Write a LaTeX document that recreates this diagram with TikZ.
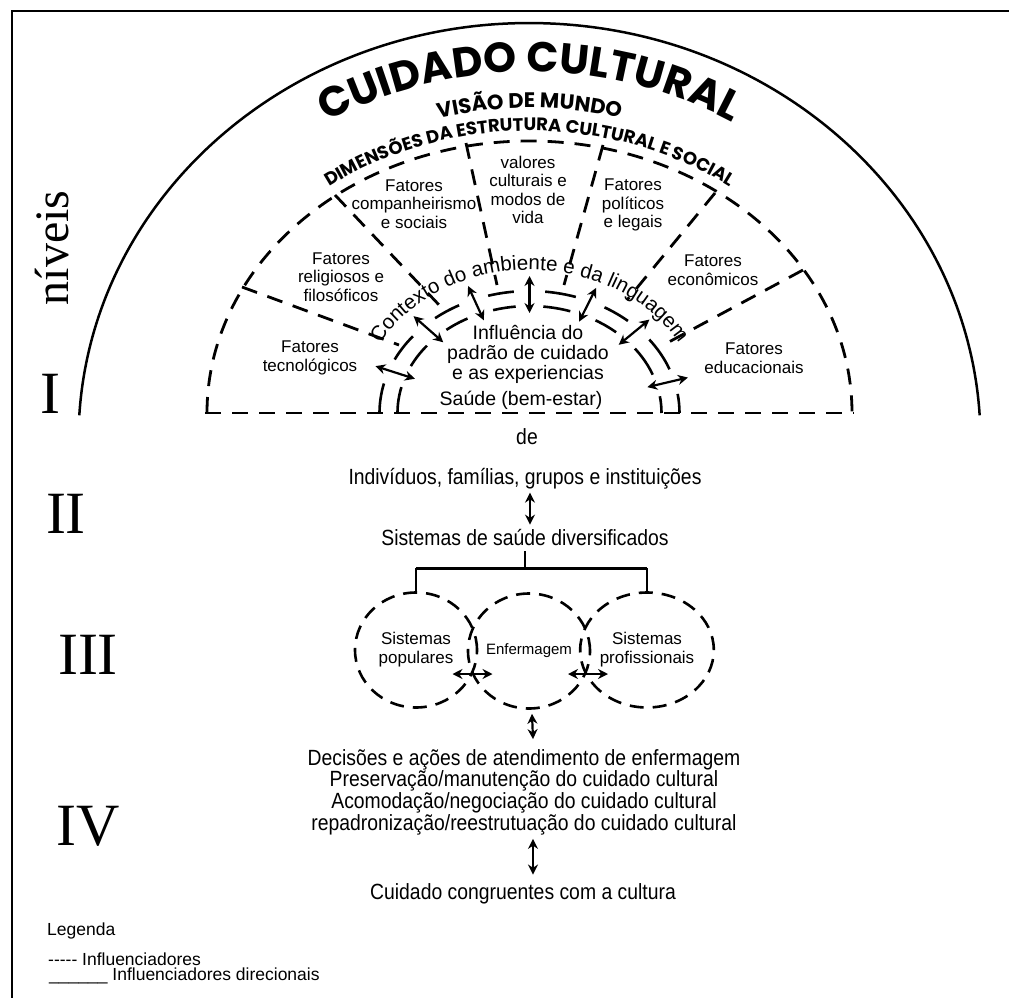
\documentclass[tikz,border=0pt]{standalone}
\usepackage{fontspec}
\setmainfont{Liberation Sans}
\newfontfamily\narrowfont{Liberation Sans}[FakeStretch=0.88]
\newfontfamily\romanfont{Liberation Serif}
\newfontfamily\titlefont{Poppins}
\usetikzlibrary{arrows.meta,shapes.geometric,decorations.text,calc}

\tikzset{
  frameline/.style={line width=2.5pt},
  dashline/.style={line width=2.8pt, dash pattern=on 16pt off 11pt},
  ringline/.style={line width=2.6pt},
  dblarrow/.style={{Stealth[length=10pt,width=10pt]}-{Stealth[length=10pt,width=10pt]}, line width=2.2pt},
  sector/.style={font=\fontsize{17}{18.5}\selectfont, align=center, inner sep=0pt},
  core/.style={font=\fontsize{19.5}{20}\selectfont, align=center, inner sep=0pt},
  lowtext/.style={font=\narrowfont\fontsize{22}{19.7}\selectfont, align=center, inner sep=1pt},
  numeral/.style={font=\romanfont\fontsize{60}{60}\selectfont, inner sep=0pt},
  bubble/.style={draw, ellipse, line width=2.6pt, dash pattern=on 14pt off 9pt, minimum width=122pt, minimum height=115pt, inner sep=0pt, align=center, font=\fontsize{17}{19}\selectfont},
  legend/.style={font=\fontsize{17.5}{14}\selectfont, anchor=west, inner sep=0pt}
}

\begin{document}
\begin{tikzpicture}[x=1pt, y=1pt]
  \useasboundingbox (0,0) rectangle (1009,-998);
  \draw[frameline] (12,-998) -- (12,-11) -- (1009,-11);

  % levels
  \node[numeral, rotate=90, font=\romanfont\fontsize{48}{48}\selectfont] (niveis) at (52,-248) {níveis};
  \node[numeral] (lvone) at (50,-394) {I};
  \node[numeral] (lvtwo) at (66,-514) {II};
  \node[numeral] (lvthree) at (88,-655) {III};
  \node[numeral] (lvfour) at (88,-826) {IV};

  % cultural care arc
  \draw[line width=2.5pt] (79.3,-415.3) arc[start angle=176.6, end angle=3.4, x radius=451, y radius=417];
  \path[decorate, decoration={text along path, text align=center,
      text={|\titlefont\bfseries\fontsize{42}{42}\selectfont|CUIDADO CULTURAL}}]
    (529.5,-440) ++(150:402 and 368) arc[start angle=150, end angle=30, x radius=402, y radius=368];
  \path[decorate, decoration={text along path, text align=center,
      text={|\titlefont\bfseries\fontsize{21}{21}\selectfont|VISÃO DE MUNDO}}]
    (529.5,-440) ++(150:366 and 332) arc[start angle=150, end angle=30, x radius=366, y radius=332];
  \path[decorate, decoration={text along path, text align=center,
      text={|\titlefont\bfseries\fontsize{18}{18}\selectfont|DIMENSÕES DA ESTRUTURA CULTURAL E SOCIAL}}]
    (529.5,-413) ++(170:335 and 282) arc[start angle=170, end angle=10, x radius=335, y radius=282];

  % social structure sectors
  \coordinate (ctr) at (529.5,-413);
  \draw[dashline] (205,-413) -- (854,-413);
  \draw[dashline] (207,-413) arc[start angle=180, end angle=0, x radius=322.5, y radius=272];
  \foreach \ox/\oy/\ix/\iy in {242/287/399/345, 335/195/441/307, 466/143/497/285,
      603/145/564/285, 715/193/627/300, 803/270/667/343}
    \draw[dashline] (\ox,-\oy) -- (\ix,-\iy);

  \node[sector] (tec) at (310,-358) {Fatores\\tecnológicos};
  \node[sector] (rel) at (341,-277) {Fatores\\religiosos e\\filosóficos};
  \node[sector] (comp) at (414,-204) {Fatores\\companheirismo\\e sociais};
  \node[sector] (val) at (528,-190) {valores\\culturais e\\modos de\\vida};
  \node[sector] (pol) at (633,-205) {Fatores\\políticos\\e legais};
  \node[sector] (eco) at (713,-270) {Fatores\\econômicos};
  \node[sector] (edu) at (754,-358) {Fatores\\educacionais};

  % environmental context rings
  \foreach \a/\b in {180/166,154/141,129/118,106/96,84/72,60/49,37/21,9/0} {
    \draw[ringline] (ctr) ++(\a:150 and 122) arc[start angle=\a, end angle=\b, x radius=150, y radius=122];
    \draw[ringline] (ctr) ++(\a:132 and 107) arc[start angle=\a, end angle=\b, x radius=132, y radius=107];
  }
  \foreach \t in {160,135,112,90,66,43,15}
    \draw[dblarrow] ($(ctr)+(\t:122 and 100)$) -- ($(ctr)+(\t:164 and 137)$);
  \path[decorate, decoration={text along path, text align=center,
      text={|\fontsize{20.5}{20}\selectfont|Contexto do ambiente e da linguagem}}]
    (ctr) ++(170:171 and 143) arc[start angle=170, end angle=10, x radius=171, y radius=143];

  \node[core] (infl) at (528,-354) {Influência do\\padrão de cuidado\\e as experiencias};
  \node[core] (saude) at (521,-400) {Saúde (bem-estar)};

  % levels II to IV
  \node[lowtext] (de) at (527,-437) {de};
  \node[lowtext] (indiv) at (525,-479) {Indivíduos, famílias, grupos e instituições};
  \node[lowtext] (sist) at (525,-538) {Sistemas de saúde diversificados};
  \draw[dblarrow] ([xshift=5pt,yshift=-2pt]indiv.south) -- ([xshift=5pt,yshift=4pt]sist.north);

  \node[bubble] (pop) at (416,-650) {Sistemas\\populares};
  \node[bubble, font=\fontsize{15}{17}\selectfont] (enf) at (529,-651) {Enfermagem};
  \node[bubble] (prof) at (647,-650) {Sistemas\\profissionais};
  \draw[line width=2.4pt] (sist.south) ++(0,-4) -- ++(0,-17) coordinate (brk);
  \draw[line width=2.4pt] (pop.north |- brk) -- (prof.north |- brk);
  \draw[line width=2.4pt] (pop.north |- brk) -- (pop.north);
  \draw[line width=2.4pt] (prof.north |- brk) -- (prof.north);
  \coordinate (xleft) at (472.5,-674);
  \coordinate (xright) at (588,-674);
  \draw[dblarrow] ([xshift=-20pt]xleft) -- ([xshift=20pt]xleft);
  \draw[dblarrow] ([xshift=-20pt]xright) -- ([xshift=20pt]xright);

  \node[lowtext] (dec) at (524,-792) {Decisões e ações de atendimento de enfermagem\\Preservação/manutenção do cuidado cultural\\Acomodação/negociação do cuidado cultural\\repadronização/reestrutuação do cuidado cultural};
  \node[lowtext] (cong) at (523,-894) {Cuidado congruentes com a cultura};
  \draw[dblarrow] ([xshift=3pt,yshift=-4pt]enf.south) -- ([xshift=9pt,yshift=9pt]dec.north);
  \draw[dblarrow] ([xshift=9pt,yshift=-3pt]dec.south) -- ([xshift=10pt,yshift=8pt]cong.north);

  % legend
  \node[legend] (leg) at (47,-931) {Legenda};
  \node[legend] (legdash) at (48,-959) {{-}{-}{-}{-}{-} Influenciadores};
  \node[legend] (legline) at (49,-976) {\_\_\_\_\_\_ Influenciadores direcionais};
\end{tikzpicture}
\end{document}
